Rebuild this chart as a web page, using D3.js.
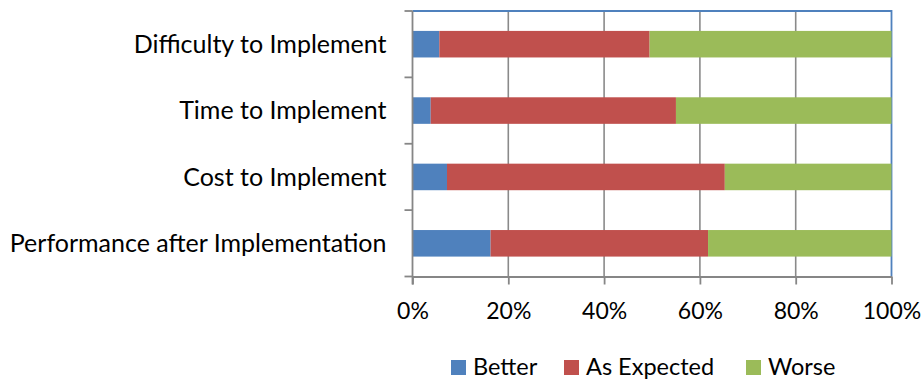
<!DOCTYPE html>
<html>
<head>
<meta charset="utf-8">
<script src="https://cdn.jsdelivr.net/npm/d3@7"></script>
<style>
  html, body { margin: 0; padding: 0; background: #ffffff; }
  svg { display: block; }
  text { font-family: Lato, "Open Sans", sans-serif; fill: #000; }
</style>
</head>
<body>
<svg id="chart" width="923" height="382"></svg>
<script>
// Survey results: share of responses per aspect (percent)
const categories = ["Difficulty to Implement", "Time to Implement", "Cost to Implement", "Performance after Implementation"];
const seriesNames = ["Better", "As Expected", "Worse"];
const better     = [5.6, 3.8, 7.2, 16.3];
const asExpected = [43.9, 51.2, 58.0, 45.4];
const worse      = [50.5, 45.0, 34.8, 38.3];
const tickValues = [0, 20, 40, 60, 80, 100];
const colors = ["#4F81BD", "#C0504D", "#9BBB59"];

const svg = d3.select("#chart");
const plot = { left: 412.5, right: 891.5, top: 11, bottom: 276.5 };

const rows = categories.map((c, i) => ({ category: c, Better: better[i], "As Expected": asExpected[i], Worse: worse[i] }));
const stacked = d3.stack().keys(seriesNames)(rows);

const x = d3.scaleLinear().domain([0, 100]).range([plot.left, plot.right]);
const y = d3.scaleBand().domain(categories).range([plot.top, plot.bottom]).paddingInner(0.6).paddingOuter(0.3);
const yEdges = d3.scaleBand().domain(categories).range([plot.top, plot.bottom]);

// vertical gridlines
svg.append("g").selectAll("line").data(tickValues.slice(1, -1)).join("line")
  .attr("x1", d => x(d)).attr("x2", d => x(d))
  .attr("y1", plot.top).attr("y2", plot.bottom)
  .attr("stroke", "#8a8a8a").attr("stroke-width", 1.6);

// plot area border (top and right)
svg.append("path")
  .attr("d", `M${plot.left},${plot.top}H${plot.right}V${plot.bottom}`)
  .attr("fill", "none").attr("stroke", "#4F81BD").attr("stroke-width", 1.8);

// stacked bars
svg.append("g").selectAll("g").data(stacked).join("g")
  .attr("fill", (d, i) => colors[i])
  .selectAll("rect").data(d => d).join("rect")
  .attr("x", d => x(d[0]))
  .attr("width", d => x(d[1]) - x(d[0]))
  .attr("y", d => y(d.data.category))
  .attr("height", y.bandwidth());

// category axis (left)
const yAxisG = svg.append("g").attr("transform", `translate(${plot.left},0)`);
yAxisG.append("line").attr("x1", 0).attr("x2", 0).attr("y1", plot.top).attr("y2", plot.bottom + 8)
  .attr("stroke", "#868686").attr("stroke-width", 1.8);
const edgeYs = categories.map(c => yEdges(c)).concat([plot.bottom]);
yAxisG.selectAll("line.tick").data(edgeYs).join("line").attr("class", "tick")
  .attr("x1", -8).attr("x2", 0).attr("y1", d => d).attr("y2", d => d)
  .attr("stroke", "#868686").attr("stroke-width", 1.8);
yAxisG.selectAll("text").data(categories).join("text")
  .attr("x", -26).attr("y", d => yEdges(d) + yEdges.bandwidth() / 2)
  .attr("dy", "0.35em").attr("text-anchor", "end")
  .style("font-size", "25px").text(d => d);

// value axis (bottom)
const xAxis = d3.axisBottom(x).tickValues(tickValues).tickFormat(d => d + "%").tickSize(8).tickSizeOuter(0);
const xAxisG = svg.append("g").attr("transform", `translate(0,${plot.bottom})`).call(xAxis);
xAxisG.select(".domain").attr("stroke", "#868686").attr("stroke-width", 1.8);
xAxisG.selectAll(".tick line").attr("stroke", "#868686").attr("stroke-width", 1.8);
xAxisG.selectAll(".tick text").attr("y", 0).attr("dy", 0).attr("transform", "translate(0,42)")
  .style("font-size", "23px").style("font-family", "Lato, sans-serif").attr("fill", "#000");

// legend
const legendX = [451, 564, 746];
const legend = svg.append("g").selectAll("g").data(seriesNames).join("g")
  .attr("transform", (d, i) => `translate(${legendX[i]},360)`);
legend.append("rect").attr("width", 15).attr("height", 15).attr("fill", (d, i) => colors[i]);
legend.append("text").attr("x", 22).attr("y", 15).style("font-size", "23.5px").text(d => d);
</script>
</body>
</html>
